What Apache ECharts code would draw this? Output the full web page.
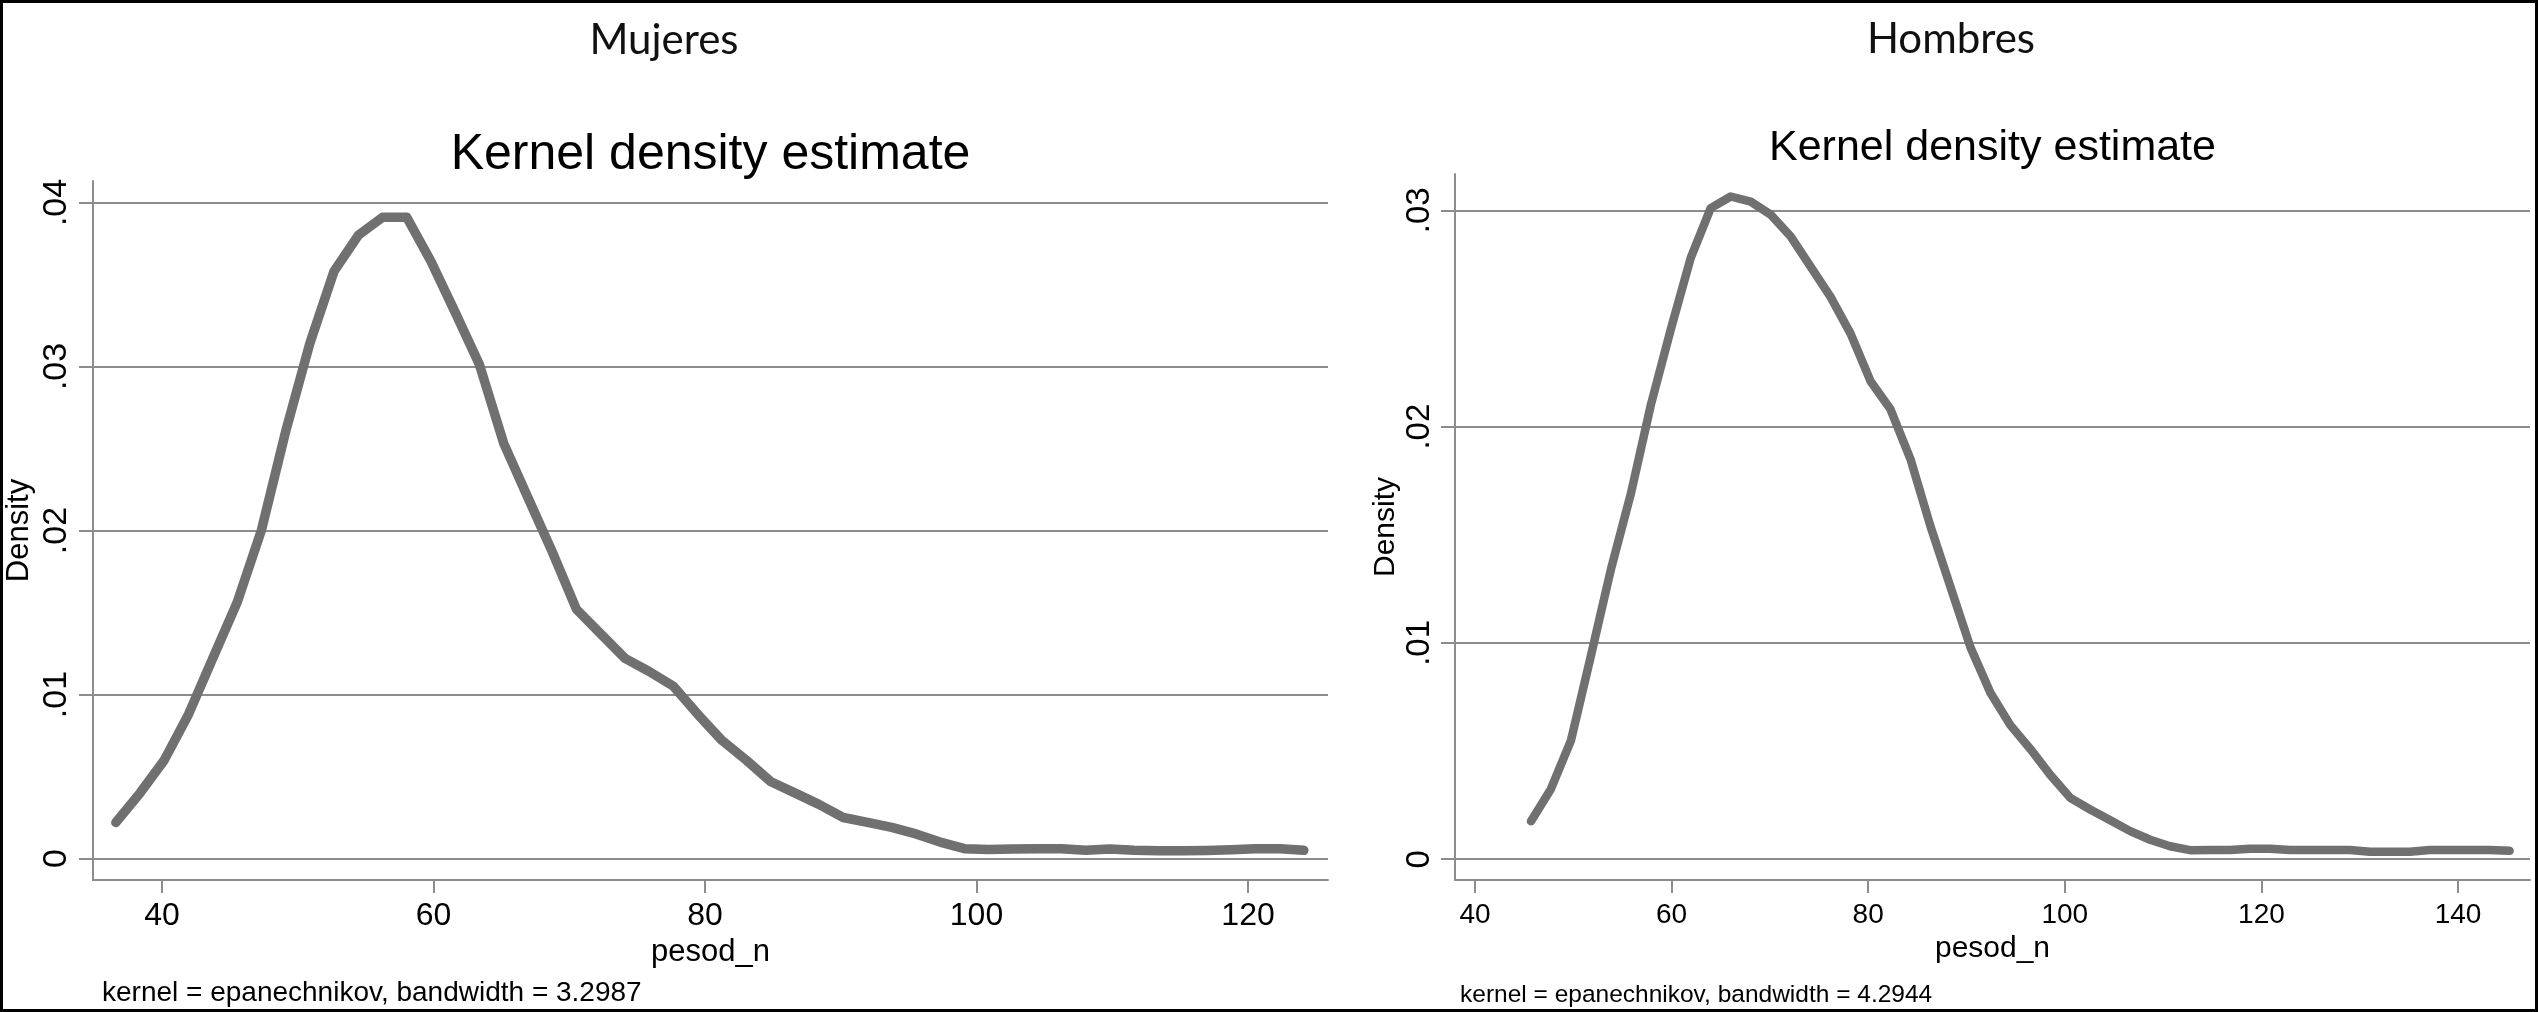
<!DOCTYPE html>
<html>
<head>
<meta charset="utf-8">
<script src="https://cdn.jsdelivr.net/npm/echarts@6/dist/echarts.min.js"></script>
<style>
html,body{margin:0;padding:0;background:#fff;}
#c{width:2538px;height:1012px;}
</style>
</head>
<body>
<div id="c"></div>
<script>
// ---- Data ----
const panelTitles = ['Mujeres', 'Hombres'];
const plotTitle = 'Kernel density estimate';
const xName = 'pesod_n';
const yName = 'Density';
const notes = ['kernel = epanechnikov, bandwidth = 3.2987', 'kernel = epanechnikov, bandwidth = 4.2944'];

const mujeresX = [36.60,38.39,40.17,41.96,43.74,45.53,47.32,49.10,50.89,52.67,
  54.46,56.25,58.03,59.82,61.60,63.39,65.18,66.96,68.75,70.53,
  72.32,74.11,75.89,77.68,79.46,81.25,83.04,84.82,86.61,88.39,
  90.18,91.97,93.75,95.54,97.32,99.11,100.90,102.68,104.47,106.25,
  108.04,109.83,111.61,113.40,115.18,116.97,118.76,120.54,122.33,124.11];
const mujeresY = [0.0022,0.0040,0.0060,0.0088,0.0122,0.0156,0.0200,0.0260,0.0314,0.0358,
  0.0380,0.0391,0.0391,0.0364,0.0333,0.0301,0.0253,0.0220,0.0187,0.0152,
  0.0137,0.0122,0.0114,0.0105,0.0088,0.0072,0.0060,0.0047,0.0040,0.0033,
  0.0025,0.0022,0.0019,0.0015,0.0010,0.0006,0.00055,0.00058,0.0006,0.0006,
  0.0005,0.00058,0.0005,0.00047,0.00048,0.00049,0.00053,0.0006,0.0006,0.0005];

const hombresX = [45.70,47.73,49.76,51.79,53.83,55.86,57.89,59.92,61.95,63.98,
  66.02,68.05,70.08,72.11,74.14,76.17,78.21,80.24,82.27,84.30,
  86.33,88.36,90.40,92.43,94.46,96.49,98.52,100.55,102.58,104.62,
  106.65,108.68,110.71,112.74,114.77,116.81,118.84,120.87,122.90,124.93,
  126.96,128.99,131.03,133.06,135.09,137.12,139.15,141.18,143.22,145.25];
const hombresY = [0.00176,0.00325,0.00548,0.0094,0.0134,0.0169,0.0210,0.0245,0.0278,0.0301,
  0.03064,0.0304,0.0298,0.0288,0.0274,0.0260,0.0243,0.0221,0.0208,0.0185,
  0.0154,0.0126,0.0098,0.0077,0.0062,0.0051,0.0039,0.00284,0.0023,0.0018,
  0.0013,0.0009,0.0006,0.00042,0.00043,0.00043,0.00049,0.00049,0.00043,0.00043,
  0.00043,0.00043,0.00035,0.00035,0.00035,0.00043,0.00043,0.00043,0.00043,0.00039];

const xTicksL = [40, 60, 80, 100, 120];
const xTicksR = [40, 60, 80, 100, 120, 140];
const yTicksL = [0, 0.01, 0.02, 0.03, 0.04];
const yTicksR = [0, 0.01, 0.02, 0.03];

// ---- Layout & style ----
const W = 2538, H = 1012;
const G = [
  {left: 93, top: 181, width: 1235, height: 699, xMin: 34.92, xMax: 125.89, yMin: -0.00131, yMax: 0.04131,
   s: {tick: 32, ytick: 34, name: 31, title: 50, note: 28, lw: 9.5, yLabelMargin: 19, yNameGap: 58, xLabelMargin: 20, xNameGap: 54},
   panelX: 664, panelY: 40, titleY: 155, noteX: 102, noteY: 993},
  {left: 1455, top: 174, width: 1075, height: 706, xMin: 37.97, xMax: 147.32, yMin: -0.00096, yMax: 0.03168,
   s: {tick: 28, ytick: 33, name: 30, title: 43, note: 24.5, lw: 8.5, yLabelMargin: 19, yNameGap: 54, xLabelMargin: 21, xNameGap: 54},
   panelX: 1951, panelY: 39, titleY: 148, noteX: 1460, noteY: 995}
];
const gridColor = '#8c8c8c';
const lineColor = '#707070';
const FONT = '"Liberation Sans", Arial, Helvetica, sans-serif';

function yFmt(v) {
  if (Math.abs(v) < 1e-12) return '0';
  return String(+v.toFixed(3)).replace(/^0\./, '.');
}

const series = [[mujeresX, mujeresY], [hombresX, hombresY]];
const xTicks = [xTicksL, xTicksR];
const yTicks = [yTicksL, yTicksR];

const option = {
  animation: false,
  backgroundColor: '#fff',
  grid: G.map(g => ({left: g.left, top: g.top, width: g.width, height: g.height, containLabel: false})),
  xAxis: G.map((g, i) => ({
    type: 'value', gridIndex: i, min: g.xMin, max: g.xMax,
    name: xName, nameLocation: 'middle', nameGap: g.s.xNameGap,
    nameTextStyle: {fontFamily: FONT, fontSize: g.s.name, color: '#000'},
    axisLine: {show: true, onZero: false, lineStyle: {color: gridColor, width: 2}},
    axisTick: {show: true, length: 13, inside: false, lineStyle: {color: gridColor, width: 2}, customValues: xTicks[i]},
    axisLabel: {show: true, margin: g.s.xLabelMargin, fontFamily: FONT, fontSize: g.s.tick, color: '#000', customValues: xTicks[i],
      showMinLabel: true, showMaxLabel: true},
    splitLine: {show: false}
  })),
  yAxis: G.map((g, i) => ({
    type: 'value', gridIndex: i, min: g.yMin, max: g.yMax,
    name: yName, nameLocation: 'middle', nameGap: g.s.yNameGap,
    nameTextStyle: {fontFamily: FONT, fontSize: g.s.name, color: '#000'},
    axisLine: {show: true, onZero: false, lineStyle: {color: gridColor, width: 2}},
    axisTick: {show: true, length: 14, inside: false, lineStyle: {color: gridColor, width: 2}, customValues: yTicks[i]},
    axisLabel: {show: true, rotate: 90, margin: g.s.yLabelMargin, fontFamily: FONT, fontSize: g.s.ytick, color: '#000',
      customValues: yTicks[i], formatter: yFmt},
    splitLine: {show: true, lineStyle: {color: gridColor, width: 2}}
  })),
  series: series.map((d, i) => ({
    type: 'line', xAxisIndex: i, yAxisIndex: i,
    data: d[0].map((x, k) => [x, d[1][k]]),
    showSymbol: false, symbol: 'none', smooth: false,
    lineStyle: {color: lineColor, width: G[i].s.lw, cap: 'round', join: 'round'},
    z: 3
  })),
  graphic: [].concat(
    G.map((g, i) => ({type: 'text', x: g.panelX, y: g.panelY,
      style: {text: panelTitles[i], font: '42px Lato, "Open Sans", sans-serif', fill: '#111', align: 'center', verticalAlign: 'middle'}})),
    G.map((g, i) => ({type: 'text', x: g.left + g.width / 2, y: g.titleY,
      style: {text: plotTitle, font: g.s.title + 'px ' + FONT, fill: '#000', align: 'center', verticalAlign: 'middle'}})),
    G.map((g, i) => ({type: 'text', x: g.noteX, y: g.noteY,
      style: {text: notes[i], font: g.s.note + 'px ' + FONT, fill: '#000', align: 'left', verticalAlign: 'middle'}})),
    [{type: 'rect', shape: {x: 1.5, y: 1.5, width: W - 3, height: H - 3},
      style: {fill: null, stroke: '#000', lineWidth: 3}, silent: true, z: 100}]
  )
};

const chart = echarts.init(document.getElementById('c'), null, {renderer: 'canvas', width: W, height: H});
chart.setOption(option);
</script>
</body>
</html>
